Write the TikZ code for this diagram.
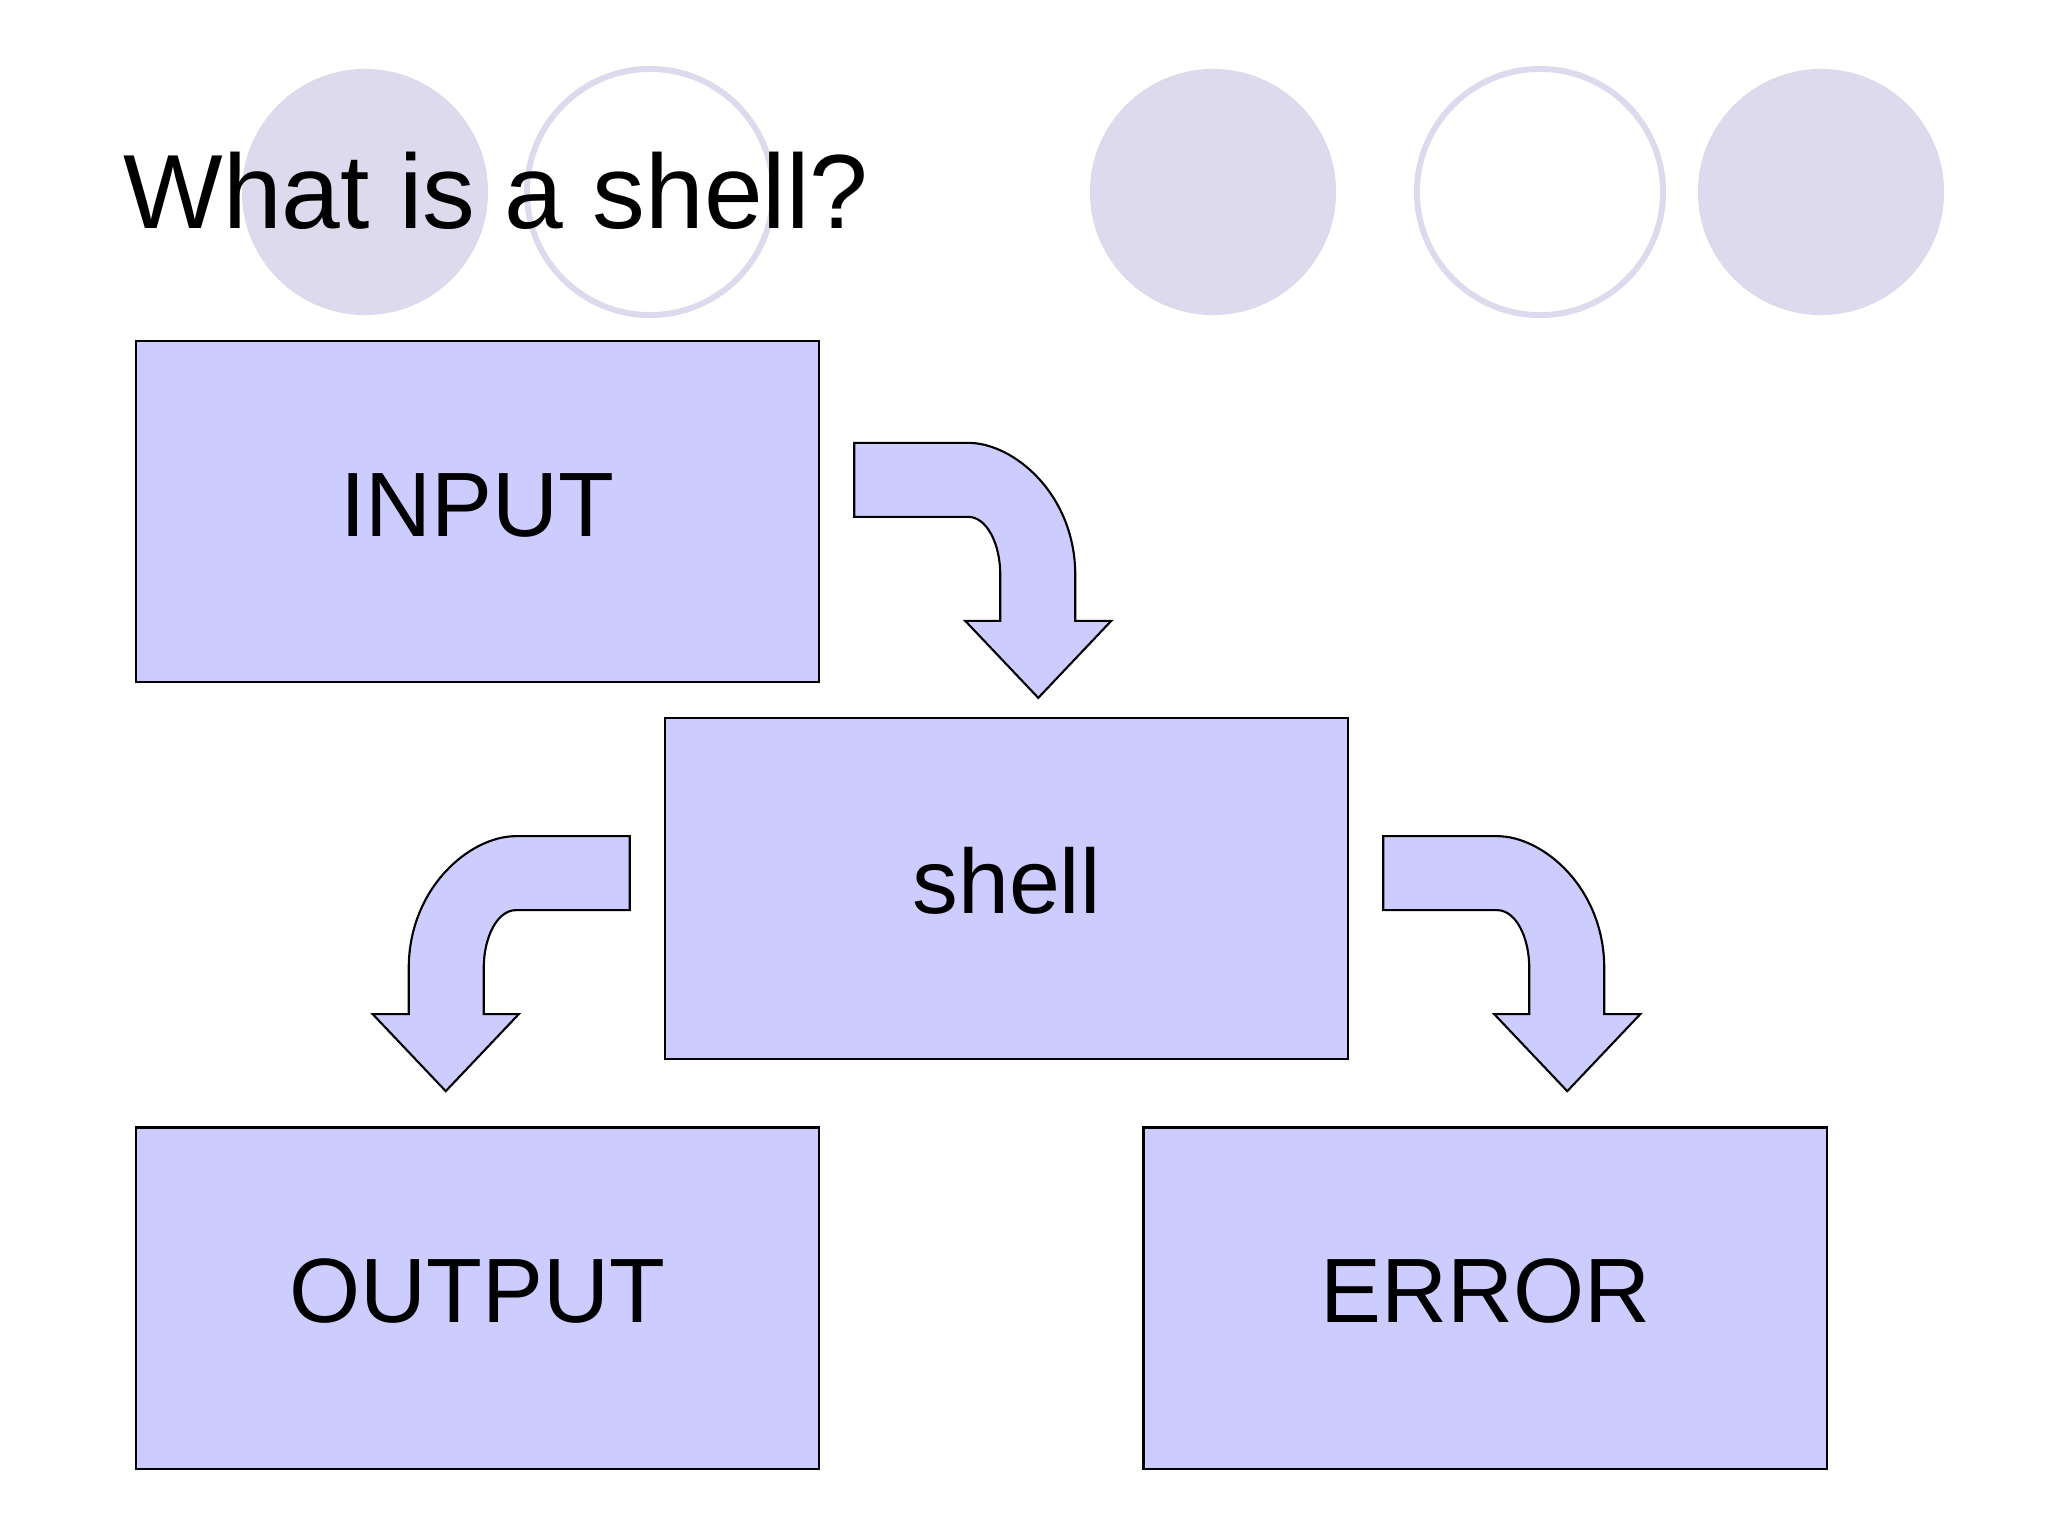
\documentclass[tikz,border=0pt]{standalone}
\usepackage{fontspec}
\setmainfont{Liberation Sans}
\usetikzlibrary{calc,positioning}
\definecolor{boxblue}{RGB}{204,204,255}
\definecolor{dotgrey}{RGB}{220,218,236}
\tikzset{
    box/.style={draw=black,line width=0.6pt,fill=boxblue,minimum width=6.83cm,inner sep=0pt,text height=1.95cm,text depth=1.46cm,font=\fontsize{26}{31}\selectfont},
    bent/.style={draw=black,line width=0.6pt,fill=boxblue},
    dot/.style={fill=dotgrey},
    ring/.style={draw=dotgrey,line width=1.7pt}
}
\begin{document}
\begin{tikzpicture}[x=0.01cm,y=-0.01cm]
    \useasboundingbox (0,0) rectangle (2048,1536);
    \fill[dot] (365,192) circle[radius=1.23cm];
    \draw[ring] (650,192) circle[radius=1.23cm];
    \fill[dot] (1213,192) circle[radius=1.23cm];
    \draw[ring] (1540,192) circle[radius=1.23cm];
    \fill[dot] (1821,192) circle[radius=1.23cm];

    \node[anchor=base west,inner sep=0pt,font=\fontsize{30}{36}\selectfont] (title) at (123,228) {What is a shell?};

    \node[box] (input) at (477.5,511.5) {INPUT};
    \node[box,below=4.43cm of input] (output) {OUTPUT};
    \node[box,right=3.22cm of output] (error) {ERROR};
    \node[box,anchor=north west] (shell) at ($(input.south west)+(529,34)$) {shell};

    \begin{scope}[shift={($(input.north east)+(34,103)$)}]
        \draw[bent] (0,0) -- (114,0) .. controls (160,0) and (221,52) .. (221,132) -- (221,178) -- (257,178) -- (184,255) -- (111,178) -- (146,178) -- (146,132) .. controls (146,100) and (132,74) .. (114,74) -- (0,74) -- cycle;
    \end{scope}
    \begin{scope}[shift={($(shell.north west)+(-34,119)$)},xscale=-1]
        \draw[bent] (0,0) -- (114,0) .. controls (160,0) and (221,52) .. (221,132) -- (221,178) -- (257,178) -- (184,255) -- (111,178) -- (146,178) -- (146,132) .. controls (146,100) and (132,74) .. (114,74) -- (0,74) -- cycle;
    \end{scope}
    \begin{scope}[shift={($(shell.north east)+(34,119)$)}]
        \draw[bent] (0,0) -- (114,0) .. controls (160,0) and (221,52) .. (221,132) -- (221,178) -- (257,178) -- (184,255) -- (111,178) -- (146,178) -- (146,132) .. controls (146,100) and (132,74) .. (114,74) -- (0,74) -- cycle;
    \end{scope}
\end{tikzpicture}
\end{document}
